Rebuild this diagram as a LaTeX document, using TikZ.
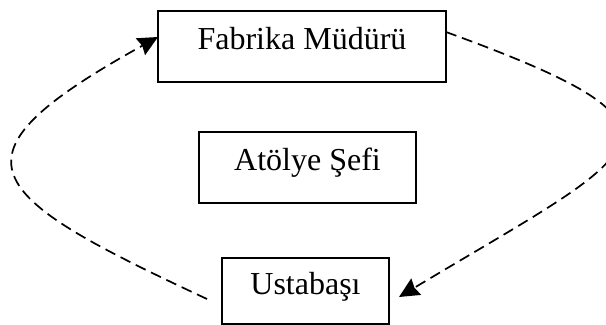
\documentclass[tikz,border=0pt]{standalone}
\usepackage{fontspec}
\setmainfont{Liberation Serif}
\usetikzlibrary{arrows.meta}

\begin{document}
\begin{tikzpicture}[x=0.5pt,y=0.5pt,
  box/.style={draw,line width=1pt,inner sep=0pt,outer sep=0pt,text height=0.7em,text depth=0.36em,font=\fontsize{16}{19}\selectfont},
  flow/.style={dash pattern=on 5.5pt off 3pt,line width=0.85pt,-{Stealth[length=10pt,width=9.5pt,inset=1pt]}}]
  \useasboundingbox (0,0) rectangle (606,325);
  % boxes
  \node[box,minimum width=144pt,minimum height=35.5pt] (mgr) at (302,278.5) {Fabrika Müdürü};
  \node[box,minimum width=108.5pt,minimum height=35.5pt] (chief) at (307.5,157.5) {Atölye Şefi};
  \node[box,minimum width=83.5pt,minimum height=33pt] (fore) at (305.5,34) {Ustabaşı};
  % arrow ends
  \coordinate (mgrout) at ([yshift=7.25pt]mgr.east);
  \coordinate (forein) at ([xshift=5pt,yshift=-3pt]fore.east);
  \coordinate (foreout) at ([xshift=-7.5pt,yshift=-4pt]fore.west);
  \coordinate (mgrin) at ([yshift=4.75pt]mgr.west);
  % loop
  \draw[flow] (mgrout) to[out=-20,in=31,looseness=2.75] (forein);
  \draw[flow] (foreout) to[out=155,in=209,looseness=2.4] (mgrin);
\end{tikzpicture}
\end{document}
